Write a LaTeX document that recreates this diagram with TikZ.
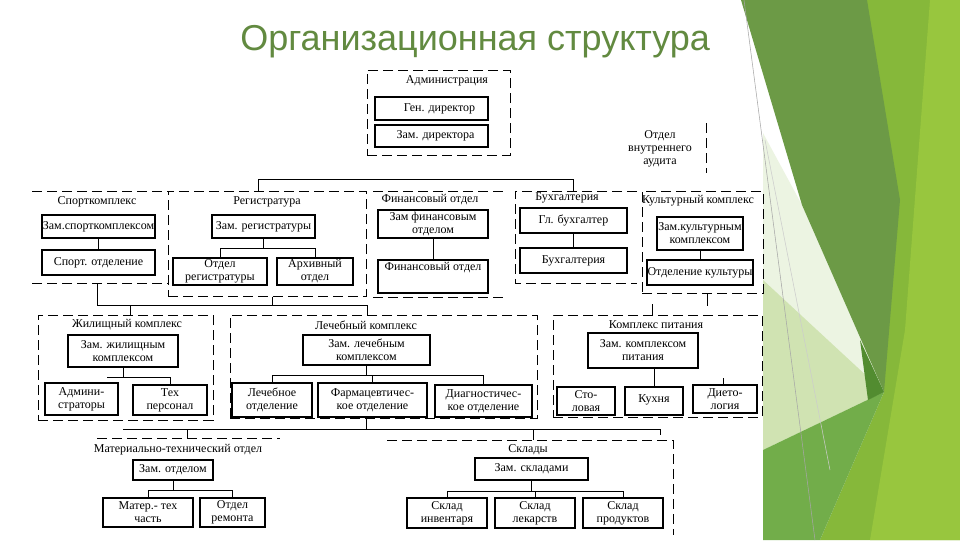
\documentclass[tikz,border=0pt]{standalone}
\usepackage{fontspec}
\setmainfont{Liberation Serif}
\newfontfamily\titlefont{Liberation Sans}
\usetikzlibrary{fit}
\definecolor{titlegreen}{RGB}{98,138,64}
\definecolor{fdark}{RGB}{108,154,70}
\definecolor{flime}{RGB}{134,184,58}
\definecolor{flimeb}{RGB}{152,198,62}
\definecolor{fpale}{RGB}{208,227,178}
\definecolor{fvpale}{RGB}{236,244,226}
\definecolor{fmid}{RGB}{114,173,74}
\definecolor{ftip}{RGB}{82,140,48}
\newcommand\bx[6]{\node[box, minimum width={(#4-#2)*0.75pt}, minimum height={(#5-#3)*0.75pt}] (#1) at ({(#2+#4)/2},{(#3+#5)/2}) {#6};}
\begin{document}
\begin{tikzpicture}[x=0.75pt,y=-0.75pt,
  grp/.style={draw=black, line width=0.75pt, dash pattern=on 7.5pt off 3.75pt},
  box/.style={draw=black, line width=1.8pt, inner sep=0pt, align=center, font=\fontsize{9}{9.75}\selectfont},
  lbl/.style={font=\fontsize{9}{9.75}\selectfont, inner sep=0pt, align=center},
  con/.style={draw=black, line width=0.75pt}]
\useasboundingbox (0,0) rectangle (960,540);
\fill[white] (0,0) rectangle (960,540);
% facets
\fill[flime] (863,0) -- (960,0) -- (960,540) -- (820,540) -- (884,392) -- cycle;
\fill[flimeb] (930,0) -- (960,0) -- (960,540) -- (870,540) -- (905,330) -- cycle;
\fill[fvpale] (763,133) -- (802,205) -- (884,392) -- (763,450) -- cycle;
\fill[fpale] (763,280) -- (884,392) -- (763,450) -- cycle;
\fill[fdark] (741,0) -- (867,0) -- (900,200) -- (884,392) -- (802,205) -- cycle;
\fill[fmid] (763,450) -- (884,392) -- (820,540) -- (763,540) -- cycle;
\fill[ftip] (860,340) -- (884,392) -- (868,400) -- cycle;
\draw[gray!70, line width=0.4pt] (744,0) -- (815,540);
\draw[gray!40, line width=0.4pt] (765,140) -- (830,470);
% title
\node[anchor=base west, inner sep=0pt, font=\titlefont\fontsize{27}{30}\selectfont, text=titlegreen] (title) at (240,50) {Организационная структура};
% ---- administration
\node[grp, fit={(367,70) (510,155)}, inner sep=0pt] (adm) {};
\node[lbl] (adml) at (447,81) {Администрация};
\bx{gd}{375}{97}{488}{120}{\hspace*{12pt}Ген. директор}
\bx{zd}{375}{125}{488}{147}{\hspace*{6pt}Зам. директора}
% audit
\node[lbl] (aud) at (660,149) {Отдел\\внутреннего\\аудита};
\coordinate (aud1) at (706,123);
\coordinate (aud2) at (706,173);
\draw[grp] (aud1) -- (aud2);
% ---- row 2
% sport
\coordinate (sp1) at (32,191);
\coordinate (sp2) at (168,191);
\coordinate (sp3) at (32,283);
\coordinate (sp4) at (168,283);
\draw[grp] (sp1) -- (sp2);
\draw[grp] (sp3) -- (sp4);
\node[lbl] (spl) at (97,202) {Спорткомплекс};
\bx{zsp}{42}{215}{155}{238}{Зам.спорткомплексом}
\bx{sot}{42}{250}{155}{275}{Спорт. отделение}
\draw[con] (zsp.south) -- (sot.north);
% registratura
\node[grp, fit={(168,191) (366,296)}, inner sep=0pt] (reg) {};
\node[lbl] (regl) at (267,202) {Регистратура};
\bx{zreg}{212}{215}{315}{238}{Зам. регистратуры}
\bx{oreg}{173}{258}{267}{285}{Отдел\\регистратуры}
\bx{arch}{277}{258}{353}{285}{Архивный\\отдел}
\coordinate (rj) at (263,248);
\draw[con] (zreg.south) -- (zreg.south |- rj);
\draw[con] (oreg.north) |- (arch.north |- rj) -- (arch.north);
% finance
\coordinate (fi1) at (373,191);
\coordinate (fi2) at (503,191);
\coordinate (fi3) at (373,297);
\coordinate (fi4) at (503,297);
\draw[grp] (fi1) -- (fi2);
\draw[grp] (fi3) -- (fi4);
\node[lbl] (finl) at (430,200) {Финансовый отдел};
\bx{zfin}{378}{210}{488}{238}{Зам финансовым\\отделом}
\bx{fin}{378}{260}{488}{293}{}
\node[lbl] (fint) at (433,268) {Финансовый отдел};
\draw[con] (zfin.south) -- (fin.north);
% buhgalteria
\coordinate (bu1) at (637,191);
\coordinate (bu2) at (515,191);
\coordinate (bu3) at (515,283);
\coordinate (bu4) at (637,283);
\draw[grp] (bu1) -- (bu2) -- (bu3) -- (bu4);
\node[lbl] (bul) at (567,198) {Бухгалтерия};
\bx{glb}{520}{208}{627}{233}{Гл. бухгалтер}
\bx{bux}{520}{248}{627}{273}{Бухгалтерия}
\draw[con] (glb.south) -- (bux.north);
% culture
\node[grp, fit={(642,191) (763,293)}, inner sep=0pt] (kul) {};
\node[lbl] (kull) at (698,201) {Культурный комплекс};
\bx{zkul}{657}{217}{743}{250}{Зам.культурным\\комплексом}
\bx{okul}{647}{260}{753}{285}{Отделение культуры}
\draw[con] (zkul.south) -- (okul.north);
% top bus
\coordinate (tb) at (258,179);
\coordinate (bb) at (573,179);
\draw[con] (reg.north -| tb) -- (tb) -- (bb) -- (bu2 -| bb);
% ---- row 3
\node[grp, fit={(38,315) (213,420)}, inner sep=0pt] (zhil) {};
\node[grp, fit={(230,315) (537,418)}, inner sep=0pt] (lech) {};
\node[grp, fit={(553,315) (762,417)}, inner sep=0pt] (pit) {};
% bus 2
\coordinate (m1) at (97,305);
\coordinate (m2) at (367,305);
\draw[con] (sp3 -| m1) -- (m1) -- (m2) -- (lech.north -| m2);
\draw[con] (reg.south -| 272,0) -- (272,305);
\draw[con] (130,305) -- (zhil.north -| 130,0);
% zhil
\node[lbl] (zhl) at (127,325) {Жилищный комплекс};
\bx{zzh}{68}{335}{178}{367}{Зам. жилищным\\комплексом}
\bx{adm2}{45}{383}{118}{415}{Админи-\\страторы}
\bx{tex}{133}{385}{207}{415}{Тех\\персонал}
\coordinate (jz) at (107,377);
\draw[con] (zzh.south) -- (zzh.south |- jz);
\draw[con] (jz) -- (tex.north |- jz) -- (tex.north);
% lech
\node[lbl] (lel) at (366,325) {Лечебный комплекс};
\bx{zle}{303}{335}{430}{365}{Зам. лечебным\\комплексом}
\bx{led}{232}{383}{312}{417}{Лечебное\\отделение}
\bx{far}{318}{383}{427}{417}{Фармацевтичес-\\кое отделение}
\bx{dia}{435}{385}{532}{417}{Диагностичес-\\кое отделение}
\coordinate (lj) at (366,375);
\draw[con] (zle.south) -- (zle.south |- lj);
\draw[con] (led.north) |- (dia.north |- lj) -- (dia.north);
\draw[con] (far.north) -- (far.north |- lj);
% pit
\node[lbl] (pil) at (656,325) {Комплекс питания};
\bx{zpi}{588}{333}{698}{368}{Зам. комплексом\\питания}
\bx{sto}{557}{387}{615}{415}{Сто-\\ловая}
\bx{kux}{625}{387}{683}{415}{\raisebox{3pt}{Кухня}}
\bx{die}{693}{385}{757}{413}{Дието-\\логия}
\draw[con] (kux.north) -- (kux.north |- zpi.south);
\coordinate (dj) at (723,378);
\draw[con] (die.north -| dj) -- (dj);
\coordinate (kp1) at (707,306);
\coordinate (kp2) at (652,304);
\draw[con] (kul.south -| kp1) -- (kp1);
\draw[con] (kp2) -- (pit.north -| kp2);
% ---- row 4
\coordinate (b3l) at (123,429);
\coordinate (b3r) at (660,429);
\draw[con] (b3l) -- (b3r) -- ++(0,6);
\draw[con] (lech.south -| 366,0) -- (366,429);
\coordinate (mt1) at (97,438);
\coordinate (mt2) at (280,438);
\draw[grp] (mt1) -- (mt2);
\draw[con] (187,429) -- (mt1 -| 187,0);
\node[lbl] (mtl) at (178,450) {Материально-технический отдел};
\bx{zot}{133}{460}{213}{480}{Зам. отделом}
\bx{mtc}{103}{498}{193}{527}{Матер.- тех\\часть}
\bx{rem}{200}{498}{265}{527}{Отдел\\ремонта}
\coordinate (oj) at (173,490);
\draw[con] (zot.south) -- (zot.south |- oj);
\draw[con] (mtc.north) |- (rem.north |- oj) -- (rem.north);
% sklady
\coordinate (sk1c) at (387,440);
\coordinate (sk2c) at (673,440);
\coordinate (sk3c) at (673,535);
\draw[grp] (sk1c) -- (sk2c) -- (sk3c);
\draw[con] (533,429) -- (sk1c -| 533,0);
\node[lbl] (skl) at (528,450) {Склады};
\bx{zskl}{475}{458}{588}{480}{Зам. складами}
\bx{sk1}{407}{498}{487}{528}{Склад\\инвентаря}
\bx{sk2}{495}{498}{575}{528}{Склад\\лекарств}
\bx{sk3}{583}{498}{663}{528}{Склад\\продуктов}
\coordinate (sj) at (532,491);
\draw[con] (zskl.south) -- (zskl.south |- sj);
\draw[con] (sk1.north) |- (sk3.north |- sj) -- (sk3.north);
\draw[con] (sk2.north) -- (sk2.north |- sj);
\end{tikzpicture}
\end{document}
